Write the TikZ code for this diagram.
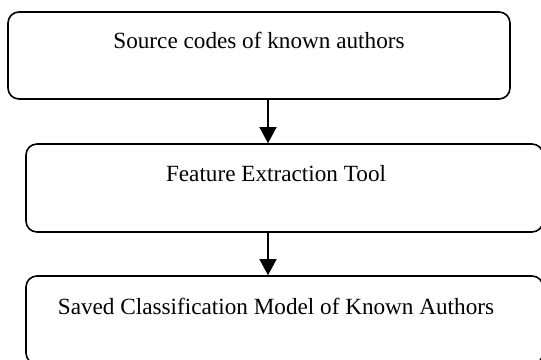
\documentclass[tikz,border=0pt]{standalone}
\usepackage{fontspec}
\setmainfont{Liberation Serif}
\usetikzlibrary{arrows.meta}

\tikzset{
  stage/.style={draw,line width=1.6pt,rounded corners=11pt,inner sep=0pt},
  stagetext/.style={anchor=base,inner sep=0pt,font=\fontsize{23.2}{28}\selectfont},
  flow/.style={line width=1.3pt,-{Triangle[width=17pt,length=16pt]}}
}

\begin{document}
\begin{tikzpicture}[x=1pt,y=1pt]
\useasboundingbox (0,0) rectangle (541,-359);
\clip (0,0) rectangle (541,-359);
%\fill[white] (0,0) rectangle (541,-359);

\node[stage,minimum width=502pt,minimum height=87pt] (src) at (259,-55.5) {};
\node[stage,minimum width=517pt,minimum height=88pt] (fet) at (284.5,-188) {};
\node[stage,minimum width=517pt,minimum height=88pt] (model) at (284.5,-320) {};

\node[stagetext] (srctxt) at (259,-48) {Source codes of known authors};
\node[stagetext] (fettxt) at (276,-181.5) {Feature Extraction Tool};
\node[stagetext] (modeltxt) at (276,-314) {Saved Classification Model of Known Authors};

\coordinate (axis) at (268,0);
\draw[flow] (src.south -| axis) -- (fet.north -| axis);
\draw[flow] (fet.south -| axis) -- (model.north -| axis);
\end{tikzpicture}
\end{document}
